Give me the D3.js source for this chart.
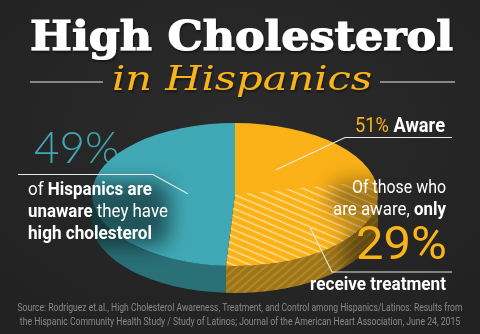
<!DOCTYPE html>
<html>
<head>
<meta charset="utf-8">
<script src="https://cdn.jsdelivr.net/npm/d3@7"></script>
<style>
  html, body { margin: 0; padding: 0; background: #262626; }
  svg { display: block; }
</style>
</head>
<body>
<svg id="chart" width="480" height="334"></svg>
<script>
// Awareness of high cholesterol among Hispanics (percent of all respondents)
const categories = ["Aware", "Unaware"];
const shares = [51, 49];
// Share of the pie that receives treatment, carved out of the "Aware" slice
const treatedLabel = "receive treatment";
const treatedShare = 29;

const titleLines = ["High Cholesterol", "in Hispanics"];
const sourceLines = [
  "Source: Rodriguez et.al., High Cholesterol Awareness, Treatment, and Control among Hispanics/Latinos: Results from",
  "the Hispanic Community Health Study / Study of Latinos; Journal of the American Heart Association, June 24, 2015"
];

const W = 480, H = 334;
const svg = d3.select("#chart");
const defs = svg.append("defs");

// background
const bg = defs.append("radialGradient").attr("id", "bg").attr("cx", "50%").attr("cy", "40%").attr("r", "70%");
bg.append("stop").attr("offset", "0%").attr("stop-color", "#2b2b2b");
bg.append("stop").attr("offset", "100%").attr("stop-color", "#222222");
svg.append("rect").attr("width", W).attr("height", H).attr("fill", "url(#bg)");

// hatch patterns
const hatchTop = defs.append("pattern").attr("id", "hatchTop")
  .attr("patternUnits", "userSpaceOnUse").attr("width", 10).attr("height", 6.5)
  .attr("patternTransform", "rotate(23)");
hatchTop.append("line").attr("x1", 0).attr("x2", 10).attr("y1", 3.2).attr("y2", 3.2)
  .attr("stroke", "#fff0c4").attr("stroke-opacity", 0.8).attr("stroke-width", 1.3);
const hatchSide = defs.append("pattern").attr("id", "hatchSide")
  .attr("patternUnits", "userSpaceOnUse").attr("width", 10).attr("height", 6)
  .attr("patternTransform", "rotate(-40)");
hatchSide.append("line").attr("x1", 0).attr("x2", 10).attr("y1", 3).attr("y2", 3)
  .attr("stroke", "#d9a93e").attr("stroke-opacity", 0.6).attr("stroke-width", 1.2);

// soft shadow filter
const blur = defs.append("filter").attr("id", "soft").attr("x", "-50%").attr("y", "-50%").attr("width", "200%").attr("height", "200%");
blur.append("feGaussianBlur").attr("stdDeviation", 10);
const tshadow = defs.append("filter").attr("id", "tshadow").attr("x", "-10%").attr("y", "-20%").attr("width", "120%").attr("height", "150%");
tshadow.append("feDropShadow").attr("dx", 1).attr("dy", 2).attr("stdDeviation", 1.2).attr("flood-color", "#000").attr("flood-opacity", 0.45);

// ---- pie geometry (tilted disc) ----
const cx = 235, cy = 194.5, rx = 143, ry = 71.5, depth = 27;
const color = d3.scaleOrdinal().domain(categories).range(["#fbb219", "#40a9b5"]);
const sideColor = d3.scaleOrdinal().domain(categories).range(["#9c7519", "#2a7077"]);

const pie = d3.pie().sort(null).value(d => d.value);
const slices = pie(categories.map((c, i) => ({ key: c, value: shares[i] })));
const aware = slices[0];
const treated = {
  startAngle: aware.endAngle - treatedShare / 100 * 2 * Math.PI,
  endAngle: aware.endAngle
};

// point on the rim at d3 angle a (clockwise from 12 o'clock), radius fraction f
const pt = (a, f = 1, dy = 0) => [cx + f * rx * Math.sin(a), cy - f * ry * Math.cos(a) + dy];

function sector(a0, a1) {
  const p0 = pt(a0), p1 = pt(a1);
  const large = (a1 - a0) > Math.PI ? 1 : 0;
  return `M${cx},${cy}L${p0}A${rx},${ry} 0 ${large} 1 ${p1}Z`;
}
function side(a0, a1) {
  const s = Math.max(a0, Math.PI / 2), e = Math.min(a1, 3 * Math.PI / 2);
  if (e <= s) return null;
  const p0 = pt(s), p1 = pt(e), q0 = pt(s, 1, depth), q1 = pt(e, 1, depth);
  return `M${p0}A${rx},${ry} 0 0 1 ${p1}L${q1}A${rx},${ry} 0 0 0 ${q0}Z`;
}

const pieG = svg.append("g");
// sides
slices.forEach(d => {
  const p = side(d.startAngle, d.endAngle);
  if (p) pieG.append("path").attr("d", p).attr("fill", sideColor(d.data.key));
});
const tp = side(treated.startAngle, treated.endAngle);
if (tp) pieG.append("path").attr("d", tp).attr("fill", "url(#hatchSide)");
// tops
slices.forEach(d => {
  pieG.append("path").attr("d", sector(d.startAngle, d.endAngle)).attr("fill", color(d.data.key));
});
pieG.append("path").attr("d", sector(treated.startAngle, treated.endAngle)).attr("fill", "url(#hatchTop)");

// soft shadows cast by the text blocks, kept on the disc
defs.append("clipPath").attr("id", "discClip").append("path")
  .attr("d", `M${pt(-Math.PI/2)}A${rx},${ry} 0 0 1 ${pt(Math.PI/2)}L${pt(Math.PI/2,1,depth)}A${rx},${ry} 0 0 1 ${pt(-Math.PI/2,1,depth)}Z`);
const shade = svg.append("g").attr("clip-path", "url(#discClip)").append("g").attr("filter", "url(#soft)");
shade.append("rect").attr("x", 20).attr("y", 182).attr("width", 150).attr("height", 64)
  .attr("rx", 16).attr("fill", "#000").attr("opacity", 0.5);
shade.append("rect").attr("x", 330).attr("y", 180).attr("width", 130).attr("height", 40)
  .attr("rx", 16).attr("fill", "#000").attr("opacity", 0.35);
shade.append("rect").attr("x", 345).attr("y", 225).attr("width", 110).attr("height", 70)
  .attr("rx", 16).attr("fill", "#000").attr("opacity", 0.4);

// ---- title ----
svg.append("text").text(titleLines[0])
  .attr("x", 30).attr("y", 50)
  .attr("textLength", 423).attr("lengthAdjust", "spacingAndGlyphs")
  .attr("font-family", "'DejaVu Serif', serif").attr("font-weight", "bold").attr("font-size", 41)
  .attr("fill", "#ffffff").attr("stroke", "#ffffff").attr("stroke-width", 1.2)
  .attr("filter", "url(#tshadow)");
svg.append("text").text(titleLines[1])
  .attr("x", 112).attr("y", 90)
  .attr("textLength", 260).attr("lengthAdjust", "spacingAndGlyphs")
  .attr("font-family", "'DejaVu Serif', serif").attr("font-style", "italic").attr("font-size", 34)
  .attr("fill", "#f9b41a").attr("filter", "url(#tshadow)");
svg.append("line").attr("x1", 30).attr("x2", 103).attr("y1", 82).attr("y2", 82)
  .attr("stroke", "#a8a8a8").attr("stroke-width", 1.5);
svg.append("line").attr("x1", 380).attr("x2", 455).attr("y1", 82).attr("y2", 82)
  .attr("stroke", "#a8a8a8").attr("stroke-width", 1.5);

// ---- labels ----
const cond = "Roboto, 'Open Sans', sans-serif";
const leader = (pts) => svg.append("path").attr("d", d3.line()(pts))
  .attr("fill", "none").attr("stroke", "#e8e8e8").attr("stroke-width", 1.1);

// condensed text: squeeze horizontally about its anchor so it spans `width`
function condText(x, y, anchor, size, width, parts, fill) {
  const g = svg.append("g").attr("transform", `translate(${x},${y})`);
  const t = g.append("text").attr("text-anchor", anchor)
    .attr("font-family", cond).attr("font-size", size).attr("fill", fill || "#ffffff");
  parts.forEach(([s, w, c]) => {
    const ts = t.append("tspan").attr("font-weight", w || 400).text(s);
    if (c) ts.attr("fill", c);
  });
  const natural = t.node().getComputedTextLength();
  g.attr("transform", `translate(${x},${y}) scale(${width / natural},1)`);
  return t;
}

// unaware
const unaware = slices[1];
const uMid = (unaware.startAngle + unaware.endAngle) / 2;
svg.append("text").text(shares[1] + "%")
  .attr("x", 34).attr("y", 163)
  .attr("font-family", "Lato, sans-serif").attr("font-weight", 300).attr("font-size", 44)
  .attr("fill", "#40a9b5");
leader([[18, 174.5], [153, 174.5], pt(uMid, 0.33)]);
condText(28, 195, "start", 19, 124, [["of ", 400], ["Hispanics are", 700]]);
condText(28, 217, "start", 19, 140, [["unaware", 700], [" they have", 400]]);
condText(28, 238.5, "start", 19, 124, [["high cholesterol", 700]]);

// aware
const aMid = (aware.startAngle + treated.startAngle) / 2;
condText(445, 132, "end", 19.5, 90, [[shares[0] + "% ", 400, "#f9b41a"], [categories[0], 700]]);
leader([[452, 137.5], [345, 137.5], pt(aMid, 0.45)]);

// treated
const tMid = (treated.startAngle + treated.endAngle) / 2;
condText(446, 193, "end", 19, 94, [["Of those who", 400]]);
condText(446, 215, "end", 19, 113, [["are aware, ", 400], ["only", 700]]);
condText(447, 259, "end", 46, 91, [[treatedShare + "%", 400]], "#f9b41a");
leader([[452, 272], [332, 272], pt(tMid, 0.7)]);
condText(446, 290, "end", 19, 136, [[treatedLabel, 700]]);

// ---- source ----
sourceLines.forEach((s, i) => {
  condText(240, 311 + i * 13.5, "middle", 11.5, i === 0 ? 446 : 441, [[s, 400]], "#8a8a8a");
});
</script>
</body>
</html>
